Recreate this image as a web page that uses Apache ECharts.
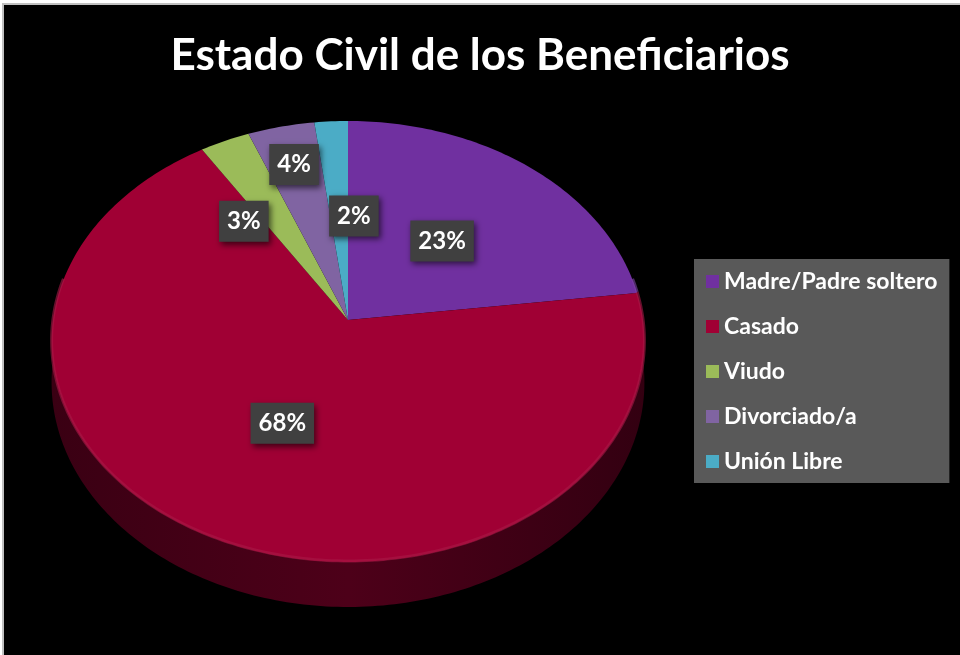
<!DOCTYPE html>
<html lang="es">
<head>
    <meta charset="UTF-8">
    <title>Estado Civil de los Beneficiarios</title>
    <script src="https://cdn.jsdelivr.net/npm/echarts@6/dist/echarts.min.js"></script>
    <style>
        body { margin: 0; background: #fff; }
        #main { position: absolute; left: 0; top: 0; width: 960px; height: 655px; }
        .edge1 { position: absolute; left: 0; top: 0; width: 960px; height: 655px; box-sizing: border-box;
                 border-left: 2px solid #fff; border-top: 3px solid #fff; pointer-events: none; }
        .edge2 { position: absolute; left: 2px; top: 3px; width: 958px; height: 652px; box-sizing: border-box;
                 border-left: 2px solid #c0c0c0; border-top: 2px solid #c0c0c0; pointer-events: none; }
    </style>
</head>
<body>
    <div id="main"></div>
    <div class="edge1"></div>
    <div class="edge2"></div>
    <script>
        var categories = ['Madre/Padre soltero', 'Casado', 'Viudo', 'Divorciado/a', 'Unión Libre'];
        var values = [23, 68, 3, 4, 2];
        var colors = ['#7030A0', '#A00034', '#9BBB59', '#8064A2', '#4BACC6'];

        // where the % boxes sit: fraction of radius and a small angle nudge (deg)
        var labelRadius = [0.5, 0.5, 0.6, 0.79, 0.5];
        var labelNudge = [0, 0, -11, 0, 6];

        // tilted pie geometry (apex, half-width, perspective)
        var CX = 348, CY = 320, RA = 295, RB = 218.4, PERSP = 0.0975, DEPTH = 40.6;

        var total = values.reduce(function (s, v) { return s + v; }, 0);
        var starts = [];
        var acc = 0;
        values.forEach(function (v) { starts.push(acc / total * Math.PI * 2); acc += v; });

        function shade(hex, f) {
            var n = parseInt(hex.slice(1), 16);
            var r = Math.round(((n >> 16) & 255) * f), g = Math.round(((n >> 8) & 255) * f), b = Math.round((n & 255) * f);
            return 'rgb(' + r + ',' + g + ',' + b + ')';
        }

        function proj(phi, r) {
            var u = r * Math.sin(phi), v = -r * Math.cos(phi);
            var k = 1 / (1 - PERSP * v);
            return [CX + RA * u * k, CY + RB * v * k, k];
        }

        function arc(a0, a1) {
            var n = Math.max(2, Math.ceil((a1 - a0) / (Math.PI / 180)));
            var pts = [];
            for (var i = 0; i <= n; i++) pts.push(proj(a0 + (a1 - a0) * i / n, 1));
            return pts;
        }

        function makeRender(si) {
            return function (params, api) {
                var v = api.value(0);
                var a0 = starts[si];
                var a1 = a0 + v / total * Math.PI * 2;
                var col = colors[si];
                var children = [];

                // side wall, only the front half shows
                var s0 = Math.max(a0, Math.PI * 0.44), s1 = Math.min(a1, Math.PI * 1.56);
                if (s1 > s0) {
                    var top = arc(s0, s1);
                    var side = top.map(function (p) { return [p[0], p[1]]; });
                    for (var i = top.length - 1; i >= 0; i--) side.push([top[i][0], top[i][1] + DEPTH * top[i][2]]);
                    children.push({
                        type: 'polygon', z2: 1,
                        shape: { points: side },
                        style: {
                            fill: new echarts.graphic.LinearGradient(0, 0, 1, 0, [
                                { offset: 0, color: shade(col, 0.36) },
                                { offset: 0.5, color: shade(col, 0.48) },
                                { offset: 1, color: shade(col, 0.32) }
                            ])
                        }
                    });
                    var rim = top.map(function (p) { return [p[0], p[1] - 1]; });
                    children.push({
                        type: 'polyline', z2: 6,
                        shape: { points: rim },
                        style: { stroke: echarts.color.lift(col, 0.1), lineWidth: 3, opacity: 0.6, fill: null }
                    });
                }

                var face = [[CX, CY]].concat(arc(a0, a1).map(function (p) { return [p[0], p[1]]; }));
                children.push({
                    type: 'polygon', z2: 5,
                    shape: { points: face },
                    style: { fill: col }
                });

                var mid = (a0 + a1) / 2 + labelNudge[si] * Math.PI / 180;
                var lp = proj(mid, labelRadius[si]);
                children.push({
                    type: 'text', z2: 20,
                    x: lp[0], y: lp[1],
                    style: {
                        text: Math.round(v / total * 100) + '%',
                        fill: '#fff',
                        font: 'bold 24px Lato',
                        align: 'center',
                        verticalAlign: 'middle',
                        lineHeight: 24,
                        backgroundColor: '#404040',
                        padding: [9, 8, 8, 8],
                        shadowBlur: 6,
                        shadowOffsetX: 2,
                        shadowOffsetY: 3,
                        shadowColor: 'rgba(0,0,0,0.6)'
                    }
                });
                return { type: 'group', children: children };
            };
        }

        var chart = echarts.init(document.getElementById('main'));
        var series = categories.map(function (name, i) {
            return {
                type: 'custom',
                name: name,
                coordinateSystem: 'none',
                itemStyle: { color: colors[i] },
                renderItem: makeRender(i),
                data: [[values[i]]],
                animation: false
            };
        });

        chart.setOption({
            backgroundColor: '#000',
            animation: false,
            title: {
                text: 'Estado Civil de los Beneficiarios',
                left: 'center',
                top: 29,
                textStyle: { color: '#fff', fontFamily: 'Lato', fontWeight: 'bold', fontSize: 44 }
            },
            legend: {
                orient: 'vertical',
                left: 694,
                top: 259,
                backgroundColor: '#595959',
                padding: [11, 12, 10, 12],
                itemWidth: 13,
                itemHeight: 13,
                itemGap: 22,
                icon: 'rect',
                selectedMode: false,
                textStyle: { color: '#fff', fontFamily: 'Lato', fontWeight: 'bold', fontSize: 23, lineHeight: 23 },
                data: categories
            },
            series: series
        });
    </script>
</body>
</html>
